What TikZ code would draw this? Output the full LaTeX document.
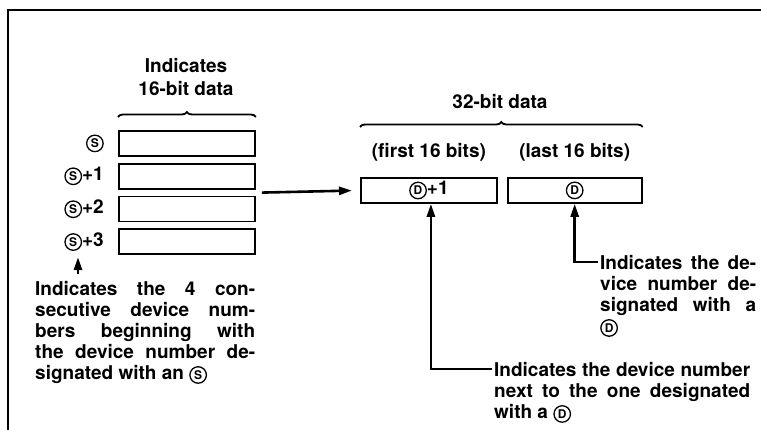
\documentclass[tikz,border=0pt]{standalone}
\usepackage{fontspec}
\setmainfont{TeX Gyre Heros}
\usetikzlibrary{arrows.meta,positioning,calc,decorations.pathreplacing}

%% circled device letter (S or D)
\newcommand{\encirc}[1]{\tikz[baseline=(ch.base)]\node[circle,draw,line width=1.3pt,inner sep=0pt,
  minimum size=16.5pt,text width={},anchor=center,align=center,
  font=\fontsize{12}{12}\selectfont\bfseries](ch){#1};}

\tikzset{
  frameline/.style={line width=2.6pt},
  wordbox/.style={rectangle,draw,line width=1.8pt,minimum width=136pt,minimum height=25pt,
    inner sep=0pt,font=\fontsize{19}{21}\selectfont\bfseries},
  devlabel/.style={inner sep=0pt,font=\fontsize{19}{21}\selectfont\bfseries},
  caption/.style={align=center,inner sep=0pt,font=\fontsize{19}{23}\selectfont\bfseries},
  note/.style={align=justify,inner sep=0pt,anchor=north west,font=\fontsize{19}{21}\selectfont\bfseries},
  bracket/.style={decorate,decoration={brace,amplitude=5pt},line width=1.8pt},
  arr/.style={-{Triangle[length=13pt,width=8pt]},line width=2.6pt}
}

\begin{document}
\begin{tikzpicture}[x=1pt,y=-1pt]
  \useasboundingbox (0,0) rectangle (761,430);

  %% frame, open at right and bottom
  \draw[frameline] (8,430) -- (8,10) -- (761,10);

  %% 16-bit words
  \node[wordbox,anchor=north west] (s0) at (118,130) {};
  \node[wordbox,below=6pt of s0] (s1) {};
  \node[wordbox,below=6pt of s1] (s2) {};
  \node[wordbox,below=6pt of s2] (s3) {};
  \node[devlabel,left=14pt of s0] (l0) {\encirc{S}};
  \node[devlabel,left=14pt of s1] (l1) {\encirc{S}+1};
  \node[devlabel,left=14pt of s2] (l2) {\encirc{S}+2};
  \node[devlabel,left=14pt of s3] (l3) {\encirc{S}+3};
  \draw[bracket] ([yshift=13pt]s0.north west) -- ([yshift=13pt]s0.north east);
  \node[caption] (t16) at (186,77) {Indicates\\16-bit data};

  %% 32-bit data
  \node[wordbox,anchor=north west] (d1) at (360,177) {\encirc{D}+1};
  \node[wordbox,right=9pt of d1,minimum width=134pt] (d0) {\encirc{D}};
  \node[caption,above=15pt of d1] (first) {(first 16 bits)};
  \node[caption,above=15pt of d0] (last) {(last 16 bits)};
  \draw[bracket] ([yshift=50pt]d1.north west) -- ([yshift=50pt]d0.north east);
  \node[caption] (t32) at (500,102) {32-bit data};

  %% notes
  \node[note,text width=220pt] (nS) at (35,281)
    {Indicates the 4 con-\linebreak secutive device num-\linebreak bers beginning with\linebreak
     the device number de-\linebreak signated with an \encirc{S}};
  \node[note,text width=156pt] (nD) at (600,255)
    {Indicates the de-\linebreak vice number de-\linebreak signated with a\linebreak \encirc{D}};
  \node[note,text width=256pt] (nD1) at (494,362)
    {Indicates the device number\linebreak next to the one designated\linebreak with a \encirc{D}};

  %% connectors
  \coordinate (tailS) at ([xshift=43pt,yshift=7pt]nS.north west);
  \coordinate (kD) at ([xshift=-2pt,yshift=-7pt]nD.north west);
  \coordinate (kD1) at ([xshift=-2pt,yshift=-7pt]nD1.north west);
  \draw[arr,shorten >=6pt] (tailS) -- (tailS |- l3.south);
  \draw[arr,shorten >=8pt] ($(s1.east)!0.5!(s2.east)+(6,0)$) -- (d1.west);
  \draw[arr] (kD) -| (d0.south);
  \draw[arr] (kD1) -| ([xshift=2pt]d1.south);
\end{tikzpicture}
\end{document}
